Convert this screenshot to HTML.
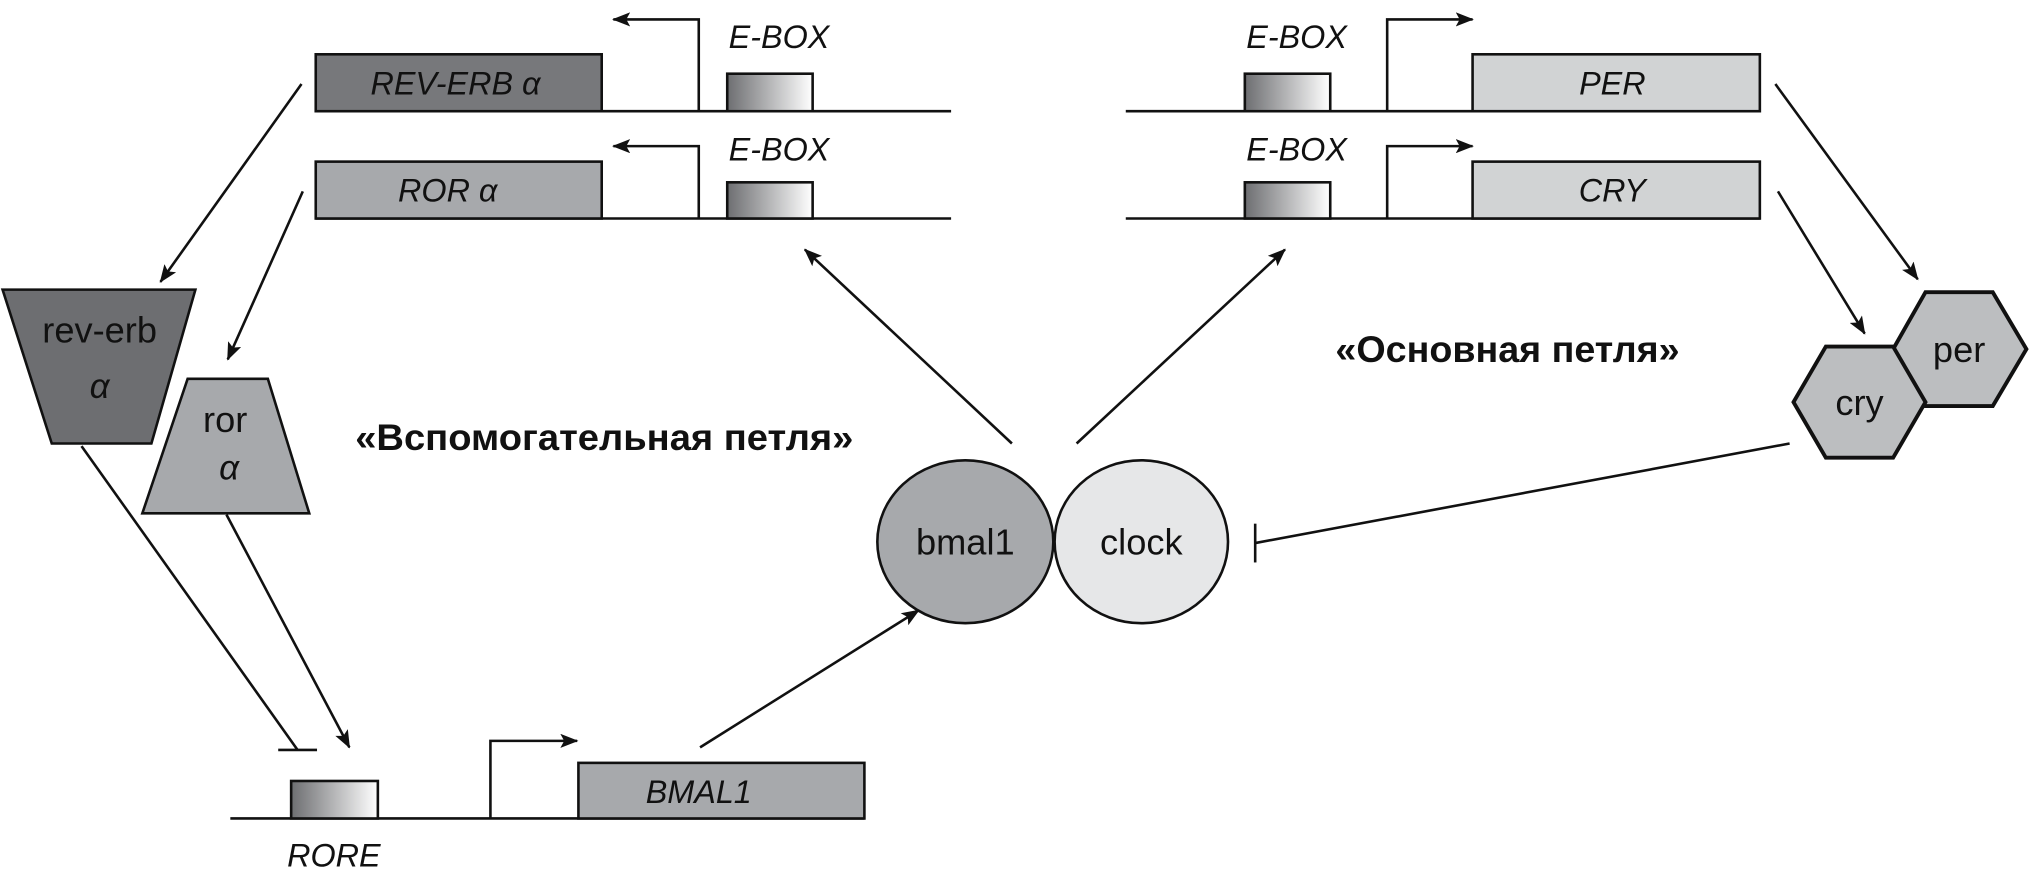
<!DOCTYPE html>
<html><head><meta charset="utf-8"><style>html,body{margin:0;padding:0;background:#fff}svg{display:block}</style></head>
<body>
<svg width="2029" height="887" viewBox="0 0 1568 686" preserveAspectRatio="none" xmlns="http://www.w3.org/2000/svg" font-family="'Liberation Sans','DejaVu Sans',sans-serif">
<defs>
<linearGradient id="g" x1="0" x2="1" y1="0" y2="0"><stop offset="0" stop-color="#6d6e71"/><stop offset="1" stop-color="#ffffff"/></linearGradient>
<marker id="ah" markerWidth="14" markerHeight="11" refX="13" refY="5.5" orient="auto" markerUnits="userSpaceOnUse"><path d="M0,0 L14,5.5 L0,11 L3,5.5 Z" fill="#111"/></marker>
</defs>
<g stroke="#111" stroke-width="2" fill="none">
<line x1="244" y1="86" x2="735" y2="86"/>
<line x1="244" y1="169" x2="735" y2="169"/>
<line x1="870" y1="86" x2="1360" y2="86"/>
<line x1="870" y1="169" x2="1360" y2="169"/>
<line x1="178" y1="633" x2="668" y2="633"/>
<path d="M540,86 V15 H474" marker-end="url(#ah)"/>
<path d="M540,169 V113 H474" marker-end="url(#ah)"/>
<path d="M1072,86 V15 H1138" marker-end="url(#ah)"/>
<path d="M1072,169 V113 H1138" marker-end="url(#ah)"/>
<path d="M379,633 V573 H446" marker-end="url(#ah)"/>
<line x1="233" y1="65" x2="124" y2="218" marker-end="url(#ah)"/>
<line x1="234" y1="148" x2="176" y2="278" marker-end="url(#ah)"/>
<line x1="175" y1="398" x2="270" y2="578" marker-end="url(#ah)"/>
<line x1="63" y1="345" x2="230" y2="580"/>
<line x1="215" y1="580" x2="245" y2="580"/>
<line x1="541" y1="578" x2="710" y2="472" marker-end="url(#ah)"/>
<line x1="782" y1="343" x2="622" y2="193" marker-end="url(#ah)"/>
<line x1="832" y1="343" x2="993" y2="193" marker-end="url(#ah)"/>
<line x1="1372" y1="65" x2="1482" y2="216" marker-end="url(#ah)"/>
<line x1="1374" y1="148" x2="1441" y2="258" marker-end="url(#ah)"/>
<line x1="1383" y1="343" x2="970" y2="420"/>
<line x1="970" y1="405" x2="970" y2="435"/>
</g>
<g stroke="#111" stroke-width="2">
<rect x="244" y="42" width="221" height="44" fill="#77787b"/>
<rect x="244" y="125" width="221" height="44" fill="#a7a9ac"/>
<rect x="1138" y="42" width="222" height="44" fill="#d1d3d4"/>
<rect x="1138" y="125" width="222" height="44" fill="#d1d3d4"/>
<rect x="447" y="590" width="221" height="43" fill="#a7a9ac"/>
<rect x="562" y="57" width="66" height="29" fill="url(#g)"/>
<rect x="562" y="141" width="66" height="28" fill="url(#g)"/>
<rect x="962" y="57" width="66" height="29" fill="url(#g)"/>
<rect x="962" y="141" width="66" height="28" fill="url(#g)"/>
<rect x="225" y="604" width="67" height="29" fill="url(#g)"/>
<polygon points="2,224 151,224 117,343 40,343" fill="#6d6e71"/>
<polygon points="145,293 207,293 239,397 110,397" fill="#a7a9ac"/>
<ellipse cx="746" cy="419" rx="68" ry="63" fill="#a7a9ac"/>
<ellipse cx="882" cy="419" rx="67" ry="63" fill="#e6e7e8"/>
<polygon points="1463,270 1488,226 1540,226 1566,270 1540,314 1488,314" fill="#bcbec0" stroke-width="3"/>
<polygon points="1386,311 1411,268 1463,268 1488,311 1463,354 1411,354" fill="#bcbec0" stroke-width="3"/>
</g>
<g fill="#111" font-size="25" text-anchor="middle">
<g font-style="italic">
<text x="602" y="37">E-BOX</text>
<text x="602" y="124">E-BOX</text>
<text x="1002" y="37">E-BOX</text>
<text x="1002" y="124">E-BOX</text>
<text x="352" y="73">REV-ERB α</text>
<text x="346" y="156">ROR α</text>
<text x="1246" y="73">PER</text>
<text x="1246" y="156">CRY</text>
<text x="540" y="621">BMAL1</text>
<text x="258" y="670">RORE</text>
<text x="77" y="308" font-size="27">α</text>
<text x="177" y="371" font-size="27">α</text>
</g>
<g font-size="28">
<text x="77" y="265">rev-erb</text>
<text x="174" y="334">ror</text>
<text x="746" y="429">bmal1</text>
<text x="882" y="429">clock</text>
<text x="1514" y="280">per</text>
<text x="1437" y="321">cry</text>
</g>
<text x="467" y="348" font-weight="bold" font-size="29" textLength="385" lengthAdjust="spacingAndGlyphs">«Вспомогательная петля»</text>
<text x="1165" y="280" font-weight="bold" font-size="29" textLength="266" lengthAdjust="spacingAndGlyphs">«Основная петля»</text>
</g>
</svg>
</body></html>
